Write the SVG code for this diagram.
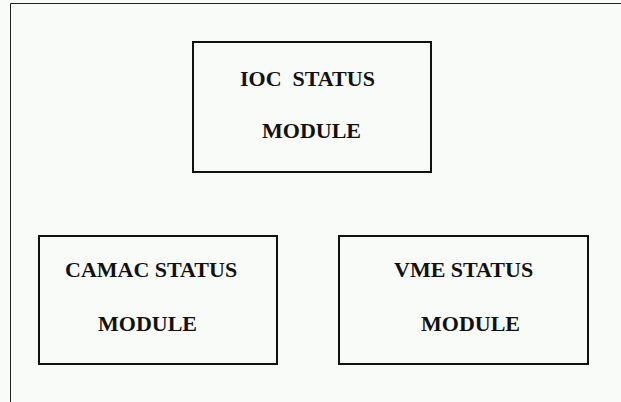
<svg xmlns="http://www.w3.org/2000/svg" width="621" height="402" viewBox="0 0 621 402">
<style>
.box{fill:none;stroke:#111;stroke-width:2}
.t{font-family:"Liberation Serif","Times New Roman",serif;font-weight:bold;font-size:22px;fill:#111;white-space:pre}
.frame{fill:none;stroke:#222;stroke-width:1}
</style>
<rect width="621" height="402" fill="#f9fbf8"/>
<path class="frame" d="M10.5,402 V3.5 H621"/>
<g id="connectors"></g>
<g id="ioc">
<rect class="box" x="193" y="42" width="238" height="130"/>
<text class="t" x="240" y="86" xml:space="preserve">IOC  STATUS</text>
<text class="t" x="262" y="138">MODULE</text>
</g>
<g id="camac">
<rect class="box" x="39" y="236" width="238" height="128"/>
<text class="t" x="65" y="277">CAMAC STATUS</text>
<text class="t" x="98" y="331">MODULE</text>
</g>
<g id="vme">
<rect class="box" x="339" y="236" width="249" height="128"/>
<text class="t" x="394" y="277">VME STATUS</text>
<text class="t" x="421" y="331">MODULE</text>
</g>
</svg>
